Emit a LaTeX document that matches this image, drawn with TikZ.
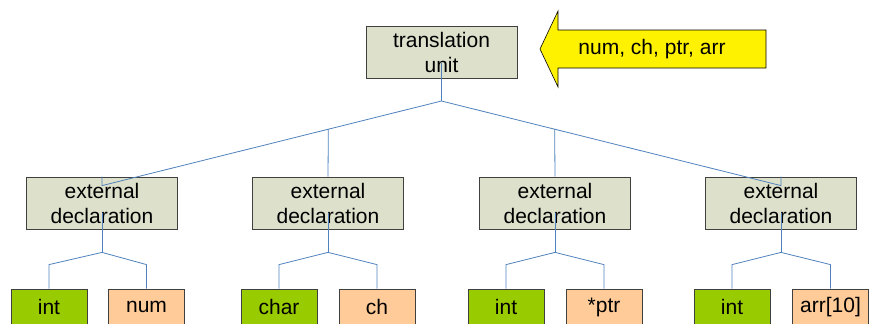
\documentclass[tikz,border=0pt]{standalone}
\usepackage{fontspec}
\setmainfont{Liberation Sans}
\usetikzlibrary{calc,positioning}
\definecolor{boxgray}{RGB}{221,224,203}
\definecolor{boxline}{RGB}{64,64,64}
\definecolor{leafgreen}{RGB}{153,204,0}
\definecolor{leaforange}{RGB}{255,204,153}
\definecolor{linkblue}{RGB}{79,129,189}

\begin{document}
\begin{tikzpicture}[x=1pt,y=-1pt,
				box/.style={rectangle, draw=boxline, line width=0.8pt, fill=boxgray,
				    minimum width=151pt, minimum height=52pt, inner sep=0pt,
				    align=center, font=\fontsize{21}{25}\selectfont},
				leaf/.style={box, minimum width=76pt, minimum height=36pt},
				typ/.style={leaf, fill=leafgreen},
				var/.style={leaf, fill=leaforange},
				link/.style={draw=linkblue, line width=0.8pt}]

				  \useasboundingbox (0,0) rectangle (873,324);

				  \node[box] (T) at (441.5,52.5) {translation\\unit};
				  \draw[fill=yellow, draw=black, line width=0.6pt] (540,49) -- (558,11) -- (558,30) -- (766,30)
				      -- (766,68) -- (558,68) -- (558,87) -- cycle;
				  \node[font=\fontsize{21}{25}\selectfont] (V) at (652,49) {num, ch, ptr, arr};

				  \node[box] (E1) at (102,203) {external\\declaration};
				  \node[box] (E2) at (328,203) {external\\declaration};
				  \node[box] (E3) at (555,203) {external\\declaration};
				  \node[box] (E4) at (781,203) {external\\declaration};

				  \node[typ] (E1a) at (49,307) {int};
				  \node[var] (E1b) at (146.5,307) {num};
				  \node[typ] (E2a) at (279,307) {char};
				  \node[var] (E2b) at (377,307) {ch};
				  \node[typ] (E3a) at (506,307) {int};
				  \node[var] (E3b) at (604,307) {*ptr};
				  \node[typ] (E4a) at (732,307) {int};
				  \node[var] (E4b) at (830.5,307) {arr[10]};

				  % top fork
				  \coordinate (F) at ([yshift=-48.5pt]T.center);
				  \coordinate (D1) at ([yshift=-9pt]E1.north);
				  \coordinate (D4) at ([yshift=-9pt]E4.north);
				  \draw[link] ([yshift=-10.5pt]T.center) -- (F);
				  \draw[link] (F) -- (D1) -- (E1.north);
				  \draw[link] (F) -- (D4) -- (E4.north);
				  \draw[link] ($(F)!1/3!(D1)$) -- (E2.north);
				  \draw[link] ($(F)!1/3!(D4)$) -- (E3.north);

				  % lower forks
				  \foreach \e in {E1,E2,E3,E4}{
				    \coordinate (\e g) at ([yshift=-23pt]\e.south);
				    \draw[link] ([yshift=-10pt]\e.center) -- (\e g);
				    \draw[link] (\e g) -- ([yshift=24pt]\e a.north) -- (\e a.north);
				    \draw[link] (\e g) -- ([yshift=24pt]\e b.north) -- (\e b.north);
				  }
				\end{tikzpicture}
\end{document}
